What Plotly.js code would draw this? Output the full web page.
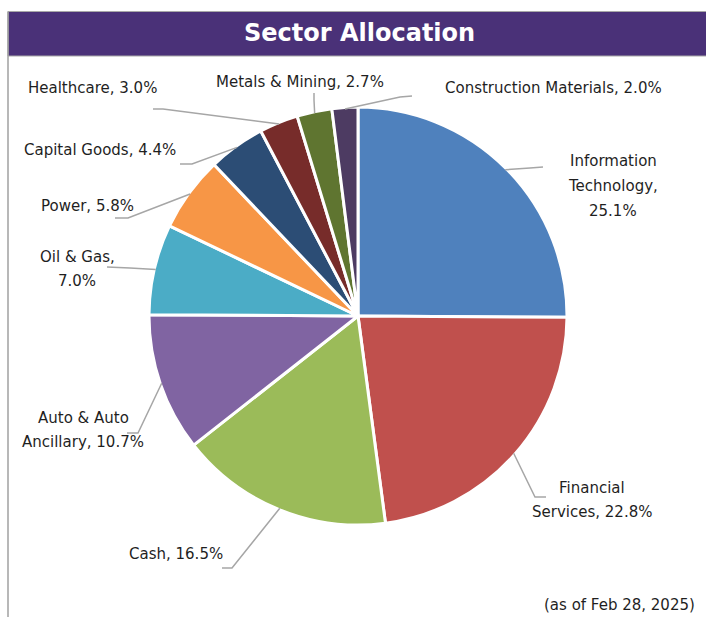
<!DOCTYPE html>
<html>
<head>
<meta charset="utf-8">
<script src="https://cdn.plot.ly/plotly-3.0.1.min.js"></script>
<style>
  html, body { margin: 0; padding: 0; background: #ffffff; }
  #chart { width: 706px; height: 617px; }
</style>
</head>
<body>
<div id="chart"></div>
<script>
// ---- Data ----
const categories = [
  "Information Technology", "Financial Services", "Cash", "Auto & Auto Ancillary",
  "Oil & Gas", "Power", "Capital Goods", "Healthcare", "Metals & Mining",
  "Construction Materials"
];
const values = [25.1, 22.8, 16.5, 10.7, 7.0, 5.8, 4.4, 3.0, 2.7, 2.0];
const colors = [
  "#4F81BD", "#C0504D", "#9BBB59", "#8064A2", "#4BACC6",
  "#F79646", "#2C4D75", "#772C2A", "#5F7530", "#4D3B62"
];
const chartTitle = "Sector Allocation";
const footnote = "(as of Feb 28, 2025)";

// ---- Layout constants (pixels) ----
const W = 706, H = 617;
const CX = 358, CY = 316, R = 207.5;
// words per line for each label
const lineWords = [[1, 1, 1], [1, 2], [2], [3, 2], [3, 1], [2], [3], [2], [4], [3]];
// label block centres
const labelPos = [
  [613, 186], [592, 500], [176, 554], [83, 430], [77, 269],
  [87, 206], [100, 150], [92, 88], [300, 82], [553, 88]
];
// leader line: elbow point and outer end point
const leaderPts = [
  [[530, 168], [543, 167]],
  [[535, 497], [546, 497]],
  [[232, 568], [222, 568]],
  [[138, 433], [127, 433]],
  [[130, 268], [107, 267]],
  [[128, 218], [115, 218]],
  [[192, 164], [180, 164]],
  [[163, 109], [153, 109]],
  [[314, 100], [314, 93]],
  [[400, 97], [412, 96]]
];
const LINE_H = 24.5;
const textFont = { family: "DejaVu Sans, Open Sans, sans-serif", size: 15, color: "#1f1f1f" };

const px = x => x / W;
const py = y => 1 - y / H;

// pie trace
const RD = R + 1.5;
const trace = {
  type: "pie",
  labels: categories,
  values: values,
  sort: false,
  direction: "clockwise",
  rotation: 0,
  textinfo: "none",
  hoverinfo: "label+percent",
  marker: { colors: colors, line: { color: "#ffffff", width: 3 } },
  domain: { x: [px(CX - RD), px(CX + RD)], y: [py(CY + RD), py(CY - RD)] },
  showlegend: false
};

const annotations = [];
const shapes = [];

// title bar
shapes.push({
  type: "rect", xref: "paper", yref: "paper",
  x0: px(8), x1: px(W + 2), y0: py(56), y1: py(11.5),
  fillcolor: "#4A3178", line: { color: "#A8A8A8", width: 1 }, layer: "below"
});
// left border
shapes.push({
  type: "line", xref: "paper", yref: "paper",
  x0: px(8), x1: px(8), y0: py(11.5), y1: py(H + 2),
  line: { color: "#A0A0A0", width: 1.5 }
});
annotations.push({
  xref: "paper", yref: "paper", x: px(359), y: py(33.5),
  xanchor: "center", yanchor: "middle", showarrow: false,
  text: "<b>" + chartTitle + "</b>",
  font: { family: "DejaVu Sans, Open Sans, sans-serif", size: 24, color: "#ffffff" }
});

// labels + leader lines from data
const total = values.reduce((a, b) => a + b, 0);
let cum = 0;
values.forEach((v, i) => {
  const mid = (cum + v / 2) / total * 2 * Math.PI;
  cum += v;
  const ex = CX + R * Math.sin(mid);
  const ey = CY - R * Math.cos(mid);
  const [elb, end] = leaderPts[i];
  shapes.push({
    type: "path", xref: "paper", yref: "paper",
    path: `M ${px(ex)} ${py(ey)} L ${px(elb[0])} ${py(elb[1])} L ${px(end[0])} ${py(end[1])}`,
    line: { color: "#A6A6A6", width: 1.5 }
  });
  const words = (categories[i] + ", " + v.toFixed(1) + "%").split(" ");
  const lines = [];
  let k = 0;
  lineWords[i].forEach(n => { lines.push(words.slice(k, k + n).join(" ")); k += n; });
  if (k < words.length) lines[lines.length - 1] += " " + words.slice(k).join(" ");
  const n = lines.length;
  lines.forEach((t, j) => {
    annotations.push({
      xref: "paper", yref: "paper",
      x: px(labelPos[i][0]), y: py(labelPos[i][1] + (j - (n - 1) / 2) * LINE_H),
      xanchor: "center", yanchor: "middle", showarrow: false,
      text: t, font: textFont
    });
  });
});

// footnote
annotations.push({
  xref: "paper", yref: "paper", x: px(697), y: py(605),
  xanchor: "right", yanchor: "middle", showarrow: false,
  text: footnote, font: textFont
});

const layout = {
  width: W, height: H,
  margin: { l: 0, r: 0, t: 0, b: 0 },
  paper_bgcolor: "#ffffff",
  plot_bgcolor: "#ffffff",
  shapes: shapes,
  annotations: annotations
};

Plotly.newPlot("chart", [trace], layout, { displayModeBar: false, staticPlot: true });
</script>
</body>
</html>
